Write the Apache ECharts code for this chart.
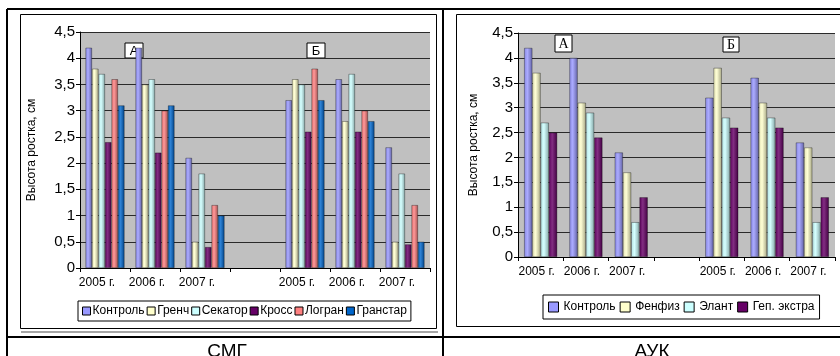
<!DOCTYPE html>
<html>
<head>
<meta charset="utf-8">
<script src="https://cdn.jsdelivr.net/npm/echarts@6/dist/echarts.min.js"></script>
<style>
  html, body { margin: 0; padding: 0; background: #fff; }
  #chart { width: 840px; height: 356px; }
</style>
</head>
<body>
<div id="chart"></div>
<script>
// ---- data ----
var categories = ['2005 г.', '2006 г.', '2007 г.', '', '2005 г.', '2006 г.', '2007 г.'];
var yTicks = [0, 0.5, 1, 1.5, 2, 2.5, 3, 3.5, 4, 4.5];

// СМГ chart (left)
var smgNames = ['Контроль', 'Гренч', 'Секатор', 'Кросс', 'Логран', 'Гранстар'];
var smgKontrol  = [4.2, 4.2, 2.1, null, 3.2, 3.6, 2.3];
var smgGrench   = [3.8, 3.5, 0.5, null, 3.6, 2.8, 0.5];
var smgSekator  = [3.7, 3.6, 1.8, null, 3.5, 3.7, 1.8];
var smgKross    = [2.4, 2.2, 0.4, null, 2.6, 2.6, 0.45];
var smgLogran   = [3.6, 3.0, 1.2, null, 3.8, 3.0, 1.2];
var smgGranstar = [3.1, 3.1, 1.0, null, 3.2, 2.8, 0.5];

// АУК chart (right)
var aukNames = ['Контроль', 'Фенфиз', 'Элант', 'Геп. экстра'];
var aukKontrol = [4.2, 4.0, 2.1, null, 3.2, 3.6, 2.3];
var aukFenfiz  = [3.7, 3.1, 1.7, null, 3.8, 3.1, 2.2];
var aukElant   = [2.7, 2.9, 0.7, null, 2.8, 2.8, 0.7];
var aukGep     = [2.5, 2.4, 1.2, null, 2.6, 2.6, 1.2];

var axisName = 'Высота ростка, см';
var captionLeft = 'СМГ';
var captionRight = 'АУК';

// ---- styling ----
var palette = ['#9999ff', '#ffffcc', '#ccffff', '#660066', '#ff8080', '#0066cc'];
var FONT = "'Liberation Sans', Arial, sans-serif";
var SERIF = "'Liberation Serif', 'Times New Roman', serif";

function shade(hex, amt) {
  var n = parseInt(hex.slice(1), 16);
  var r = (n >> 16) & 255, g = (n >> 8) & 255, b = n & 255;
  function f(c) { return Math.round(amt < 0 ? c * (1 + amt) : c + (255 - c) * amt); }
  return 'rgb(' + f(r) + ',' + f(g) + ',' + f(b) + ')';
}
function cyl(c) {
  return new echarts.graphic.LinearGradient(0, 0, 1, 0, [
    { offset: 0, color: shade(c, -0.12) },
    { offset: 0.4, color: shade(c, 0.18) },
    { offset: 1, color: shade(c, -0.35) }
  ]);
}

var smgData = [smgKontrol, smgGrench, smgSekator, smgKross, smgLogran, smgGranstar];
var aukData = [aukKontrol, aukFenfiz, aukElant, aukGep];

var series = [];
smgNames.forEach(function (nm, i) {
  series.push({
    type: 'bar', name: nm, xAxisIndex: 0, yAxisIndex: 0,
    data: smgData[i], barGap: '0%', barCategoryGap: '22%',
    itemStyle: { color: cyl(palette[i]), borderColor: 'rgba(0,0,0,0.55)', borderWidth: 0.6 },
    emphasis: { disabled: true }, z: 2
  });
});
aukNames.forEach(function (nm, i) {
  series.push({
    type: 'bar', name: nm, xAxisIndex: 1, yAxisIndex: 1,
    data: aukData[i], barGap: '0%', barCategoryGap: '27%',
    itemStyle: { color: cyl(palette[i]), borderColor: 'rgba(0,0,0,0.55)', borderWidth: 0.6 },
    emphasis: { disabled: true }, z: 2
  });
});

function xAx(gi, pad) {
  return {
    type: 'category', gridIndex: gi, data: categories,
    axisLine: { show: true, lineStyle: { color: '#000', width: 1 } },
    axisTick: { show: true, length: 4, lineStyle: { color: '#000' } },
    axisLabel: { color: '#000', fontFamily: FONT, fontSize: 12, margin: 9, interval: 0, padding: [0, pad, 0, 0] },
    splitLine: { show: false }
  };
}
function yAx(gi, gap) {
  return {
    type: 'value', gridIndex: gi, min: 0, max: 4.5, interval: 0.5,
    name: axisName, nameLocation: 'middle', nameRotate: 90, nameGap: gap,
    nameTextStyle: { color: '#000', fontFamily: FONT, fontSize: 12 },
    axisLine: { show: true, lineStyle: { color: '#000', width: 1 } },
    axisTick: { show: true, length: 4, lineStyle: { color: '#000' } },
    axisLabel: { color: '#000', fontFamily: FONT, fontSize: 15, margin: 5,
      formatter: function (v) { return String(v).replace('.', ','); } },
    splitLine: { show: true, lineStyle: { color: '#2a2a2a', width: 1 } }
  };
}

function box(x, y, w, h, txt, font, size) {
  return {
    type: 'group', x: x, y: y, z: 100,
    children: [
      { type: 'rect', shape: { x: 0, y: 0, width: w, height: h }, style: { fill: '#fff', stroke: '#000', lineWidth: 1 } },
      { type: 'text', x: w / 2, y: h / 2 + 0.5, style: { text: txt, font: size + 'px ' + font, fill: '#000', align: 'center', verticalAlign: 'middle' } }
    ]
  };
}
function line(x1, y1, x2, y2, w, c) {
  return { type: 'line', z: 50, shape: { x1: x1, y1: y1, x2: x2, y2: y2 }, style: { stroke: c || '#000', lineWidth: w } };
}

var option = {
  animation: false,
  backgroundColor: '#fff',
  grid: [
    { left: 80, right: 410, top: 32, bottom: 88, show: true, backgroundColor: '#c0c0c0', borderWidth: 0 },
    { left: 518, right: 5, top: 33, bottom: 99, show: true, backgroundColor: '#c0c0c0', borderWidth: 0 }
  ],
  xAxis: [xAx(0, 16), xAx(1, 8)],
  yAxis: [yAx(0, 42), yAx(1, 38)],
  legend: [
    {
      data: smgNames.map(function (n, i) { return { name: n, itemStyle: { color: palette[i], borderColor: '#000', borderWidth: 1 } }; }),
      left: 78, top: 301, orient: 'horizontal', icon: 'rect', itemWidth: 8, itemHeight: 8, itemGap: 2,
      padding: [4, 4, 4, 4], borderColor: '#000', borderWidth: 1, backgroundColor: '#fff',
      textStyle: { color: '#000', fontFamily: FONT, fontSize: 12, padding: [0, 0, 0, -3] }, selectedMode: false
    },
    {
      data: aukNames.map(function (n, i) { return { name: n, itemStyle: { color: palette[i], borderColor: '#000', borderWidth: 1 } }; }),
      left: 543, top: 295, orient: 'horizontal', icon: 'rect', itemWidth: 10, itemHeight: 10, itemGap: 4,
      padding: [6, 5, 6, 5], borderColor: '#000', borderWidth: 1, backgroundColor: '#fff',
      textStyle: { color: '#000', fontFamily: FONT, fontSize: 12 }, selectedMode: false
    }
  ],
  title: [
    { text: captionLeft, left: 222, top: 337, textAlign: 'center', textStyle: { fontFamily: FONT, fontSize: 19, fontWeight: 'normal', color: '#000' } },
    { text: captionRight, left: 647, top: 337, textAlign: 'center', textStyle: { fontFamily: FONT, fontSize: 19, fontWeight: 'normal', color: '#000' } }
  ],
  graphic: [
    // table borders
    line(7, 9, 840, 9, 2),
    line(7, 9, 7, 356, 2),
    line(443, 9, 443, 356, 2),
    line(7, 337, 840, 337, 2),
    // left chart frame
    { type: 'rect', z: 40, shape: { x: 20.5, y: 14.5, width: 416, height: 314 }, style: { fill: null, stroke: '#000', lineWidth: 1 } },
    line(21, 332, 438, 332, 1.5, '#888'),
    // right chart frame
    { type: 'rect', z: 40, shape: { x: 456.5, y: 14.5, width: 400, height: 312 }, style: { fill: null, stroke: '#000', lineWidth: 1 } },
    // annotation boxes
    box(125, 43, 18, 15, 'A', FONT, 13),
    box(307, 43, 18, 15, 'Б', FONT, 13),
    box(555, 35, 17, 17, 'A', SERIF, 14),
    box(723, 37, 16, 15, 'Б', SERIF, 14)
  ],
  series: series
};

var chart = echarts.init(document.getElementById('chart'), null, { renderer: 'canvas' });
chart.setOption(option);
</script>
</body>
</html>
